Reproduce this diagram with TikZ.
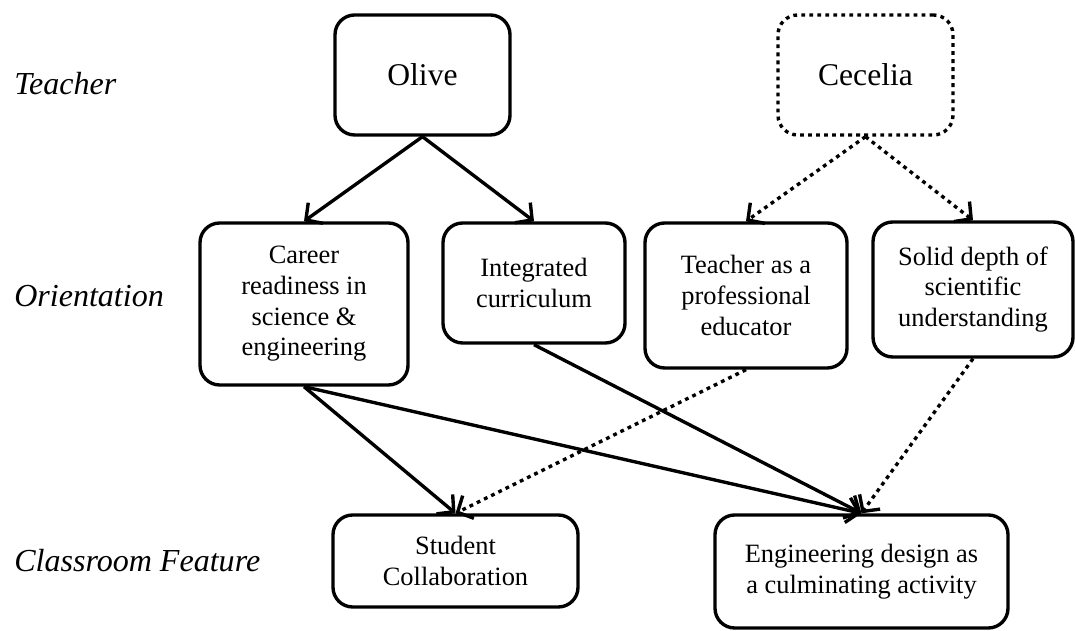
\documentclass[tikz,border=0pt]{standalone}
\usepackage{fontspec}
\setmainfont{Liberation Serif}
\usetikzlibrary{arrows.meta}

\tikzset{
  box/.style={draw, line width=2.4pt, rounded corners=14pt, align=center, inner sep=0pt,
    font=\fontsize{18.8}{21.8}\selectfont},
  who/.style={box, minimum width=4.375cm, minimum height=3cm, font=\fontsize{22.5}{26}\selectfont},
  level/.style={anchor=west, inner sep=0pt, font=\fontsize{22.8}{26}\selectfont\itshape},
  link/.style={line width=2.4pt, -{Straight Barb[length=8.5pt,width=18pt,line width=2.4pt]}},
  dots/.style={dash pattern=on 2.7pt off 3pt}
}

\begin{document}
\begin{tikzpicture}
\useasboundingbox (0,0) rectangle (26.875,15.775);
\node[level] (lteach) at (0.35,13.675) {Teacher};
\node[level] (lorient) at (0.35,8.375) {Orientation};
\node[level] (lfeat) at (0.35,1.75) {Classroom Feature};
\node[who] (olive) at (10.5625,13.9) {Olive};
\node[who, dots] (cecelia) at (21.6375,13.9) {Cecelia};
\node[box, minimum width=5.2cm, minimum height=4.05cm] (career) at (7.6,8.175) {Career\\readiness in\\science \&\\engineering};
\node[box, minimum width=4.55cm, minimum height=3cm] (integ) at (13.35,8.7) {Integrated\\curriculum};
\node[box, minimum width=5.05cm, minimum height=3.625cm] (prof) at (18.65,8.3875) {Teacher as a\\professional\\educator};
\node[box, minimum width=5cm, minimum height=3.375cm] (depth) at (24.325,8.5375) {Solid depth of\\scientific\\understanding};
\node[box, minimum width=6.125cm, minimum height=2.3cm] (collab) at (11.3875,1.75) {Student\\Collaboration};
\node[box, minimum width=7.325cm, minimum height=2.825cm] (design) at (21.5375,1.4875) {Engineering design as\\a culminating activity};
\draw[link] (olive.south) -- (career.north);
\draw[link] (olive.south) -- (integ.north);
\draw[link, dots] (cecelia.south) -- (prof.north);
\draw[link, dots] (cecelia.south) -- (depth.north);
\draw[link] (career.south) -- (collab.north);
\draw[link] (career.south) -- (design.north);
\draw[link] (integ.south) -- (design.north);
\draw[link, dots] (prof.south) -- (collab.north);
\draw[link, dots] (depth.south) -- (design.north);
\end{tikzpicture}
\end{document}
